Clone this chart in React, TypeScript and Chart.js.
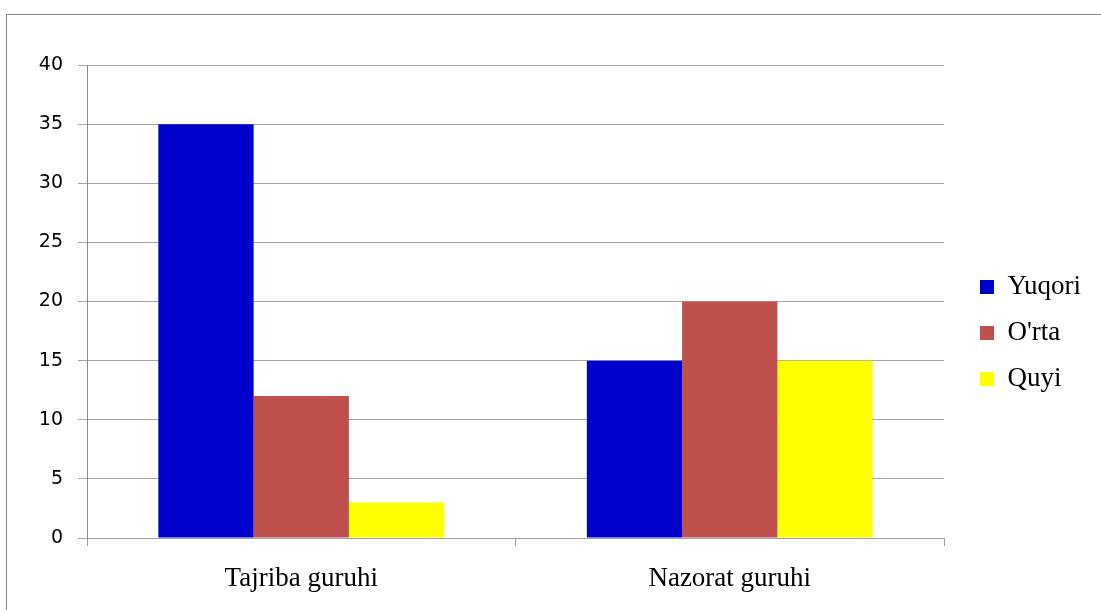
import React, { useEffect, useRef } from "react";
import { Chart, registerables } from "chart.js";

Chart.register(...registerables);

const categories = ["Tajriba guruhi", "Nazorat guruhi"];
const seriesNames = ["Yuqori", "O'rta", "Quyi"];
const yuqori = [35, 15];
const orta = [12, 20];
const quyi = [3, 15];
const seriesColors = ["#0000CC", "#C0504D", "#FFFF00"];
const yMin = 0;
const yMax = 40;
const yStep = 5;

const framePlugin = {
  id: "frame",
  beforeDraw(chart: any) {
    const ctx = chart.ctx;
    ctx.save();
    ctx.fillStyle = "#ffffff";
    ctx.fillRect(0, 0, chart.width, chart.height);
    ctx.strokeStyle = "#8a8a8a";
    ctx.lineWidth = 1;
    ctx.strokeRect(6.5, 14.5, chart.width + 50, chart.height + 50);
    ctx.restore();
  },
};

export default function App() {
  const ref = useRef<HTMLCanvasElement | null>(null);

  useEffect(() => {
    if (!ref.current) return;
    const values = [yuqori, orta, quyi];
    const chart = new Chart(ref.current, {
      type: "bar",
      data: {
        labels: categories,
        datasets: seriesNames.map((name, i) => ({
          label: name,
          data: values[i],
          backgroundColor: seriesColors[i],
          borderWidth: 0,
          categoryPercentage: 0.667,
          barPercentage: 1,
        })),
      },
      options: {
        responsive: false,
        animation: false,
        layout: { padding: { left: 39, top: 65, right: 10, bottom: 9 } },
        plugins: {
          tooltip: { enabled: false },
          legend: {
            position: "right",
            labels: {
              boxWidth: 14,
              boxHeight: 14,
              padding: 19,
              color: "#000",
              font: { family: "'Liberation Serif', 'Times New Roman', serif", size: 27 },
            },
          },
        },
        scales: {
          x: {
            offset: true,
            grid: {
              offset: true,
              drawOnChartArea: false,
              drawTicks: true,
              tickLength: 8,
              color: "#a0a0a0",
            },
            border: { display: true, color: "#a0a0a0" },
            ticks: {
              color: "#000",
              padding: 17,
              font: { family: "'Liberation Serif', 'Times New Roman', serif", size: 27 },
            },
            afterFit: (s: any) => {
              s.height = 63;
            },
          },
          y: {
            min: yMin,
            max: yMax,
            ticks: {
              stepSize: yStep,
              color: "#000",
              padding: 15,
              font: { family: "'DejaVu Sans', sans-serif", size: 19 },
            },
            grid: { color: "#a6a6a6", tickLength: 9, lineWidth: 1 },
            border: { display: true, color: "#8a8a8a" },
            afterFit: (s: any) => {
              s.width = 48;
            },
          },
          yR: {
            position: "right",
            display: true,
            grid: { display: false },
            border: { display: false },
            ticks: { display: false },
            afterFit: (s: any) => {
              s.width = 17;
            },
          },
        },
      },
      plugins: [framePlugin],
    });
    return () => chart.destroy();
  }, []);

  return (
    <div style={{ position: "absolute", left: 0, top: 0, width: 1101, height: 610 }}>
      <canvas ref={ref} width={1101} height={610} style={{ display: "block" }} />
    </div>
  );
}
